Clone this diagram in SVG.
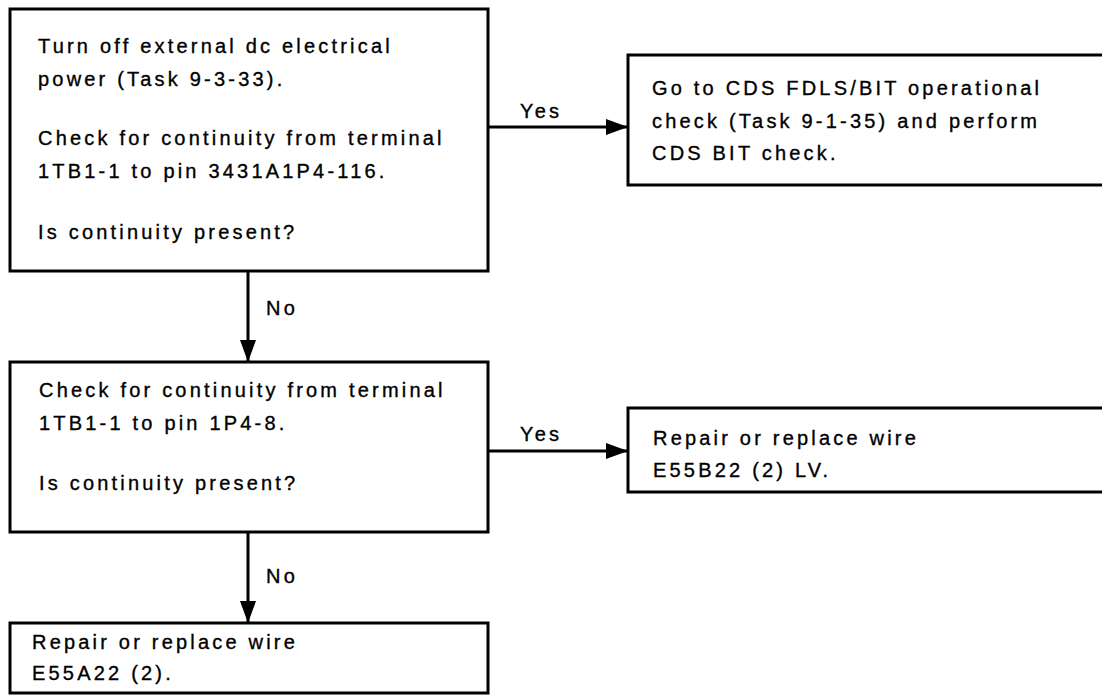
<svg xmlns="http://www.w3.org/2000/svg" width="1102" height="695" viewBox="0 0 1102 695">
<style>
.box{fill:#fff;stroke:#000;stroke-width:3}
.t{font-family:"Liberation Sans",Arial,sans-serif;font-size:20px;letter-spacing:3.2px;fill:#000;stroke:#000;stroke-width:0.35}
.c{stroke:#000;stroke-width:3;fill:none}
</style>
<defs>
<marker id="ah" markerWidth="22" markerHeight="16" refX="22" refY="8" orient="auto" markerUnits="userSpaceOnUse">
<path d="M0,0 L22,8 L0,16 Z" fill="#000"/>
</marker>
</defs>
<rect width="1102" height="695" fill="#fff"/>
<g id="n1">
<rect class="box" x="10" y="9" width="478" height="262"/>
<text class="t" x="38" y="53">Turn off external dc electrical</text>
<text class="t" x="38" y="86">power (Task 9-3-33).</text>
<text class="t" x="38" y="145">Check for continuity from terminal</text>
<text class="t" x="38" y="178">1TB1-1 to pin 3431A1P4-116.</text>
<text class="t" x="38" y="239">Is continuity present?</text>
</g>
<g id="n2">
<rect class="box" x="628" y="55" width="490" height="130"/>
<text class="t" x="652" y="95">Go to CDS FDLS/BIT operational</text>
<text class="t" x="652" y="128">check (Task 9-1-35) and perform</text>
<text class="t" x="652" y="160">CDS BIT check.</text>
</g>
<g id="n3">
<rect class="box" x="10" y="362" width="478" height="170"/>
<text class="t" x="39" y="397">Check for continuity from terminal</text>
<text class="t" x="39" y="430">1TB1-1 to pin 1P4-8.</text>
<text class="t" x="39" y="490">Is continuity present?</text>
</g>
<g id="n4">
<rect class="box" x="628" y="408" width="490" height="84"/>
<text class="t" x="653" y="445">Repair or replace wire</text>
<text class="t" x="653" y="477">E55B22 (2) LV.</text>
</g>
<g id="n5">
<rect class="box" x="10" y="623" width="478" height="70"/>
<text class="t" x="32" y="649">Repair or replace wire</text>
<text class="t" x="32" y="680">E55A22 (2).</text>
</g>
<g id="connectors">
<line class="c" x1="488" y1="127" x2="628" y2="127" marker-end="url(#ah)"/>
<text class="t" x="520" y="118">Yes</text>
<line class="c" x1="248" y1="271" x2="248" y2="362" marker-end="url(#ah)"/>
<text class="t" x="266" y="315">No</text>
<line class="c" x1="488" y1="451" x2="628" y2="451" marker-end="url(#ah)"/>
<text class="t" x="520" y="441">Yes</text>
<line class="c" x1="248" y1="532" x2="248" y2="623" marker-end="url(#ah)"/>
<text class="t" x="266" y="583">No</text>
</g>
</svg>
